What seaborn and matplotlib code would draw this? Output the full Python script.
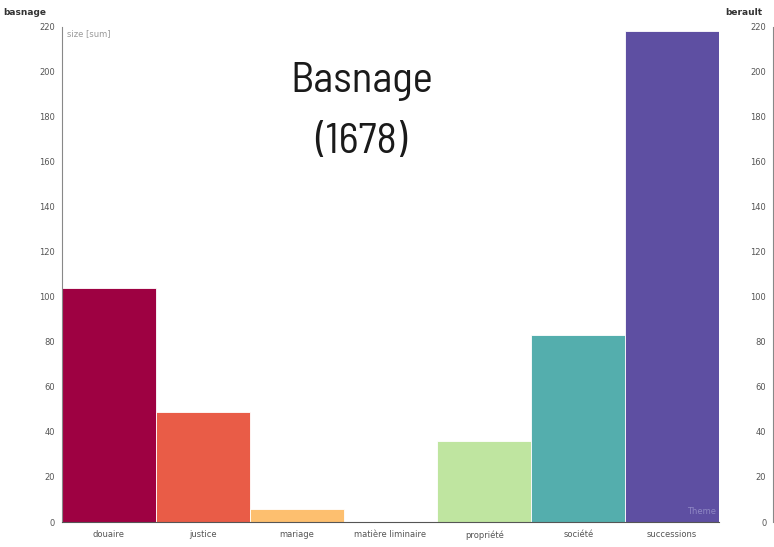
import matplotlib
matplotlib.use("Agg")
import matplotlib.pyplot as plt
import seaborn as sns
import pandas as pd
import numpy as np

categories = ["douaire", "justice", "mariage", "matière liminaire", "propriété", "société", "successions"]
sizes = [104, 49, 6, 0, 36, 83, 218]
y_ticks = [0, 20, 40, 60, 80, 100, 120, 140, 160, 180, 200, 220]
title_text = "Basnage\n(1678)"

sns.set_style("white")
plt.rcParams['font.family'] = ['DejaVu Sans']

df = pd.DataFrame({"theme": categories, "size": sizes})
cmap = plt.get_cmap("Spectral")
palette = [cmap(v) for v in np.linspace(0, 1, len(categories))]

fig = plt.figure(figsize=(7.74, 5.47), dpi=100)
ax = fig.add_axes([0.0801, 0.0457, 0.849, 0.905])
sns.barplot(data=df, x="theme", y="size", hue="theme", palette=palette,
            width=1.0, dodge=False, legend=False, ax=ax, saturation=1,
            edgecolor="white", linewidth=0.6)
ax.set_xlim(-0.5, len(categories) - 0.5)
ax.set_ylim(0, 220)
ax.set_yticks(y_ticks)
ax.set_xlabel("")
ax.set_ylabel("")
for s in ["top", "right"]:
    ax.spines[s].set_visible(False)
ax.spines["left"].set_color("#888888")
ax.spines["bottom"].set_color("#555555")
ax.tick_params(axis="both", labelsize=6, colors="#555555", length=3, width=0.8, pad=2)
ax.tick_params(axis="x", pad=3)

ax.text(0.007, 0.995, "size [sum]", transform=ax.transAxes, fontsize=6,
        color="#999999", ha="left", va="top")
fig.text(0.004, 0.985, "basnage", fontsize=6.5, fontweight="bold", color="#333333",
         ha="left", va="top")
ax.text(0.995, 0.012, "Theme", transform=ax.transAxes, fontsize=6,
        color="#8f87c4", ha="right", va="bottom")

ax.text(0.456, 0.93, title_text, transform=ax.transAxes, ha="center", va="top",
        fontsize=31, color="#1a1a1a", linespacing=1.75,
        family=["Ubuntu Condensed", "Barlow Semi Condensed", "DejaVu Sans"])

# neighbouring chart, cut off at the right edge
ax2 = fig.add_axes([0.999, 0.0457, 0.3, 0.905])
ax2.set_ylim(0, 220)
ax2.set_yticks(y_ticks)
ax2.set_xticks([])
for s in ["top", "right", "bottom"]:
    ax2.spines[s].set_visible(False)
ax2.spines["left"].set_color("#888888")
ax2.tick_params(axis="y", labelsize=6, colors="#555555", length=3, width=0.8, pad=2)
fig.text(0.937, 0.985, "berault", fontsize=6.5, fontweight="bold", color="#333333",
         ha="left", va="top")

fig.savefig("out.png", dpi=100)
